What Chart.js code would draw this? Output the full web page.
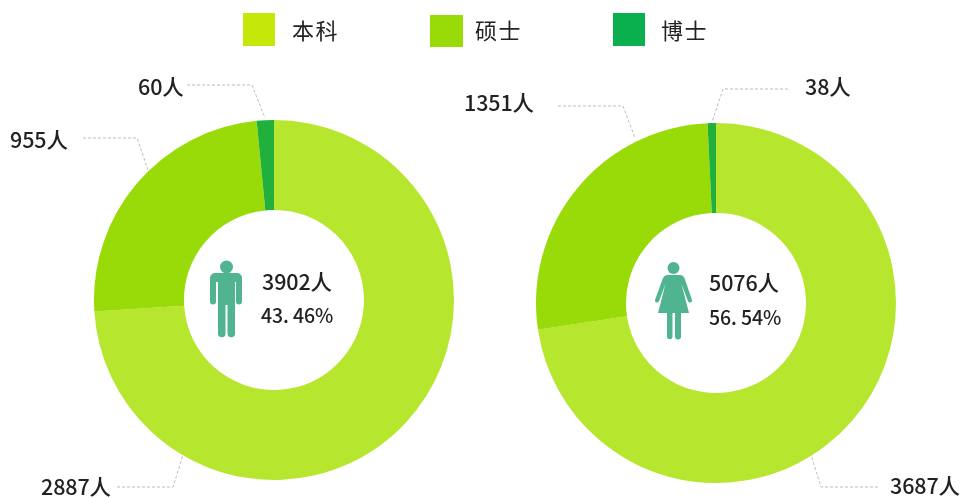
<!DOCTYPE html>
<html lang="zh-CN">
<head>
<meta charset="utf-8">
<script src="https://cdn.jsdelivr.net/npm/chart.js@4"></script>
<style>
html,body{margin:0;padding:0;background:#fff;width:960px;height:498px;overflow:hidden}
#stage{position:relative;width:960px;height:498px;font-family:"Noto Sans CJK SC","Noto Sans",sans-serif;color:#222}
canvas{position:absolute}
svg{position:absolute;left:0;top:0}
.t{position:absolute;white-space:nowrap;line-height:1;transform:translateY(-50%);font-size:21.5px;font-weight:500;letter-spacing:-.1px}
.pct{font-size:19.5px}
.sw{position:absolute}
.lg{font-size:22px;font-weight:400;letter-spacing:1.6px}
</style>
</head>
<body>
<div id="stage">
  <canvas id="male" width="360" height="360" style="left:94px;top:120px"></canvas>
  <canvas id="female" width="360" height="360" style="left:536px;top:123px"></canvas>
  <svg id="ov" width="960" height="498" viewBox="0 0 960 498"></svg>
</div>
<script>
const categories = ["本科", "硕士", "博士"];
const maleValues = [2887, 955, 60];
const femaleValues = [3687, 1351, 38];
const sliceColors = ["#B6E62E", "#99DB08", "#22B03C"];
const legendColors = ["#C5E80A", "#99DB08", "#0AB04E"];
const maleTotal = "3902人", malePct = "43. 46%";
const femaleTotal = "5076人", femalePct = "56. 54%";

function donut(id, values){
  new Chart(document.getElementById(id), {
    type: "doughnut",
    data: { labels: categories, datasets: [{ data: values, backgroundColor: sliceColors, borderWidth: 0 }] },
    options: {
      responsive: false, animation: false, cutout: "50%",
      layout: { padding: 0 },
      plugins: { legend: { display: false }, tooltip: { enabled: false } }
    }
  });
}
donut("male", maleValues);
donut("female", femaleValues);

const stage = document.getElementById("stage");
function text(s, x, y, cls){
  const d = document.createElement("div");
  d.className = "t" + (cls ? " " + cls : "");
  d.textContent = s; d.style.left = x + "px"; d.style.top = y + "px";
  stage.appendChild(d);
}
// legend
[[243,13,32,33,292],[430,15,33,32,475],[613,13,32,33,661]].forEach((p,i)=>{
  const s = document.createElement("div");
  s.className = "sw"; s.style.left = p[0]+"px"; s.style.top = p[1]+"px";
  s.style.width = p[2]+"px"; s.style.height = p[3]+"px";
  s.style.background = legendColors[i];
  stage.appendChild(s);
  text(categories[i], p[4], 29, "lg");
});
// callouts
[[maleValues[2],138,86],[maleValues[1],10,139],[maleValues[0],41,486],
 [femaleValues[1],464,102],[femaleValues[2],805,86],[femaleValues[0],890,485]]
 .forEach(a=>text(a[0]+"人",a[1],a[2]));
text(maleTotal,262,281); text(malePct,261,315,"pct");
text(femaleTotal,709,282); text(femalePct,709,317,"pct");

const leaders = [
 "187,85 252,85 265,118","83,138 137,138 148,170","117,487 173,487 183,455",
 "558,106 623,106 635,138","788,89 723,89 712,122","878,487 821,487 811,455"];
let svg = leaders.map(p=>`<polyline points="${p}" fill="none" stroke="#BDBDBD" stroke-width="1" stroke-dasharray="3 2"/>`).join("");
const teal = "#4FB48F";
// male icon
svg += `<g fill="${teal}"><circle cx="226.500" cy="267" r="6.500"/>
<path d="M215 273H237a5 5 0 0 1 5 5V301.500a3 3 0 0 1-6 0V282H235V333.500a3.750 3.750 0 0 1-7.500 0V305H225.500V333.500a3.750 3.750 0 0 1-7.500 0V282H216V301.500a3 3 0 0 1-6 0V278a5 5 0 0 1 5-5z"/></g>`;
// female icon
svg += `<g fill="${teal}"><circle cx="673.500" cy="268" r="6"/>
<path d="M667 275H680q3 0 4.500 3L692 300c.8 2.500-3 3.500-4 1.200L681.500 284 689 313H681V336.500a3 3 0 0 1-6 0V313H672.500V336.500a2.750 2.750 0 0 1-5.500 0V313H658L665.500 284 659 301.200c-1 2.300-4.800 1.300-4-1.200L663 278q1.500-3 4-3z"/></g>`;
document.getElementById("ov").innerHTML = svg;
</script>
</body>
</html>
